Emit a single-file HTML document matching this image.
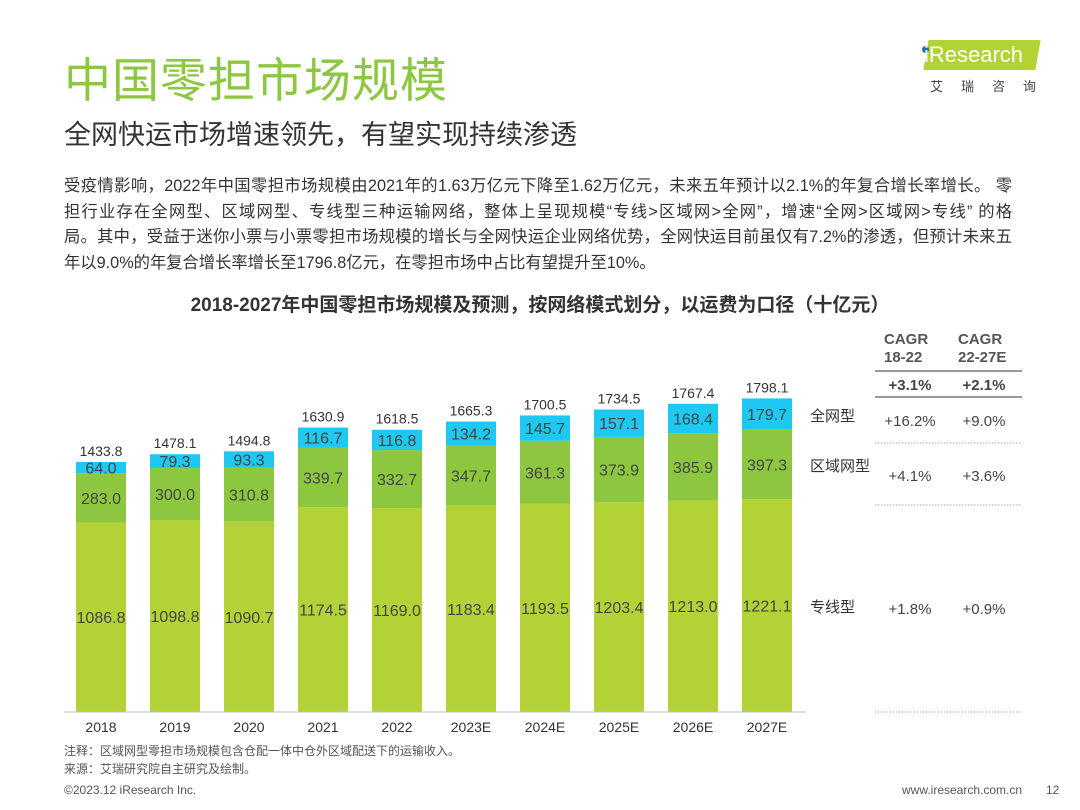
<!DOCTYPE html>
<html><head><meta charset="utf-8">
<style>
body{margin:0;width:1080px;height:810px;background:#fff;font-family:"Liberation Sans","Noto Sans CJK SC",sans-serif;position:relative;overflow:hidden;color:#333}
.abs{position:absolute}
.dl{width:948px;white-space:nowrap;text-align:justify;text-align-last:justify;height:25.5px}
.dl.last{text-align-last:left}
</style></head><body>
<div class="abs" style="left:64px;top:42px;font-size:47px;color:#8dc63f;font-family:'Noto Sans CJK SC',sans-serif;letter-spacing:1px">中国零担市场规模</div>
<div class="abs" style="left:64px;top:113px;font-size:27px;color:#333;font-family:'Noto Sans CJK SC',sans-serif">全网快运市场增速领先，有望实现持续渗透</div>
<div class="abs" style="left:918px;top:38px;width:126px;height:60px">
  <div style="position:absolute;left:8px;top:2px;width:112px;height:30px;background:#b3d235;transform:skewX(-10deg)"></div>
  <div style="position:absolute;left:4px;top:8px;width:7px;height:7px;border-radius:50%;background:#1e6fb8"></div>
  <div style="position:absolute;left:6px;top:4px;font-size:22px;color:#fff;white-space:nowrap">iResearch</div>
  <div style="position:absolute;left:12px;top:38px;font-size:13px;color:#444;letter-spacing:18px;white-space:nowrap;font-family:'Noto Sans CJK SC',sans-serif">艾瑞咨询</div>
</div>
<div class="abs" style="left:64px;top:174px;font-size:16.3px;line-height:25.5px;color:#333">
<div class="dl">受疫情影响，2022年中国零担市场规模由2021年的1.63万亿元下降至1.62万亿元，未来五年预计以2.1%的年复合增长率增长。 零</div>
<div class="dl">担行业存在全网型、区域网型、专线型三种运输网络，整体上呈现规模“专线&gt;区域网&gt;全网”，增速“全网&gt;区域网&gt;专线” 的格</div>
<div class="dl">局。其中，受益于迷你小票与小票零担市场规模的增长与全网快运企业网络优势，全网快运目前虽仅有7.2%的渗透，但预计未来五</div>
<div class="dl last">年以9.0%的年复合增长率增长至1796.8亿元，在零担市场中占比有望提升至10%。</div>
</div>
<div class="abs" style="left:0;width:1080px;text-align:center;top:290px;font-size:19px;font-weight:bold;color:#333">2018-2027年中国零担市场规模及预测，按网络模式划分，以运费为口径（十亿元）</div>
<svg class="abs" style="left:0;top:0" width="1080" height="810" id="chart"></svg>
<div class="abs" style="left:64px;top:742px;font-size:12px;color:#555;line-height:18px">注释：区域网型零担市场规模包含仓配一体中仓外区域配送下的运输收入。<br>来源：艾瑞研究院自主研究及绘制。</div>
<div class="abs" style="left:64px;top:783px;font-size:12px;color:#555">©2023.12 iResearch Inc.</div>
<div class="abs" style="left:902px;top:783px;font-size:12px;color:#555">www.iresearch.com.cn</div>
<div class="abs" style="left:1046px;top:783px;font-size:12px;color:#555">12</div>
<script>
const categories=["2018","2019","2020","2021","2022","2023E","2024E","2025E","2026E","2027E"];
const zhuanxian=[1086.8,1098.8,1090.7,1174.5,1169.0,1183.4,1193.5,1203.4,1213.0,1221.1];
const quyu=[283.0,300.0,310.8,339.7,332.7,347.7,361.3,373.9,385.9,397.3];
const quanwang=[64.0,79.3,93.3,116.7,116.8,134.2,145.7,157.1,168.4,179.7];
const totals=[1433.8,1478.1,1494.8,1630.9,1618.5,1665.3,1700.5,1734.5,1767.4,1798.1];
const seriesNames=["专线型","区域网型","全网型"];
const cagrRows=[["+3.1%","+2.1%"],["+16.2%","+9.0%"],["+4.1%","+3.6%"],["+1.8%","+0.9%"]];
const svg=document.getElementById('chart');const NS='http://www.w3.org/2000/svg';
const base=712,k=0.1744,x0=101,step=74,bw=50;
const y=v=>base-v*k;const xc=i=>x0+i*step;
function el(t,a,txt){const e=document.createElementNS(NS,t);for(const n in a)e.setAttribute(n,a[n]);if(txt!==undefined)e.textContent=txt;svg.appendChild(e);return e;}
const cols=["#b3d235","#8dc63f","#1ec8f0"];
const series=[zhuanxian,quyu,quanwang];
categories.forEach((c,i)=>{
  let acc=0;
  series.forEach((s,j)=>{
    const r=el('rect',{x:xc(i)-bw/2,y:y(acc+s[i]),width:bw,height:s[i]*k,fill:cols[j]});
    
    
    const t=el('text',{x:xc(i),y:y(acc+s[i]/2)+6,'text-anchor':'middle','font-size':16,fill:'#444','font-family':'Liberation Sans,sans-serif'},s[i].toFixed(1));
    
    
    acc+=s[i];
  });
  const tt=el('text',{x:xc(i),y:y(totals[i])-6,'text-anchor':'middle','font-size':14,fill:'#333','font-family':'Liberation Sans,sans-serif'},totals[i].toFixed(1));
  
  
  const xl=el('text',{x:xc(i),y:732,'text-anchor':'middle','font-size':14,fill:'#333','font-family':'Liberation Sans,sans-serif'},c);
  
  
});
const ax=el('line',{x1:64,x2:806,y1:base,y2:base,stroke:'#bbb','stroke-width':1});


const legY=[607,466,416];
seriesNames.forEach((n,j)=>{const t=el('text',{x:810,y:legY[j]+5,'font-size':15,fill:'#333','font-family':'Noto Sans CJK SC,sans-serif'},n);

});
const cx=[910,984];
[["CAGR","18-22"],["CAGR","22-27E"]].forEach((h,i)=>{h.forEach((s,l)=>{const t=el('text',{x:cx[i]-26,y:344+l*18,'font-size':15,'font-weight':'bold',fill:'#555','font-family':'Liberation Sans,sans-serif'},s);

});});
[[371,'solid'],[397,'solid'],[443,'dot'],[505,'dot'],[712,'dot']].forEach(([yy,st])=>{const l=el('line',{x1:875,x2:1022,y1:yy,y2:yy,stroke:st=='solid'?'#999':'#aaa','stroke-width':st=='solid'?2:1,'stroke-dasharray':st=='solid'?'':'1.5,1.5'});

});
const rowY=[385,421,476,609];
cagrRows.forEach((r,ri)=>{r.forEach((v,ci)=>{const t=el('text',{x:cx[ci],y:rowY[ri]+5,'text-anchor':'middle','font-size':15,'font-weight':ri==0?'bold':'normal',fill:'#444','font-family':'Liberation Sans,sans-serif'},v);

});});
</script>
</body></html>
